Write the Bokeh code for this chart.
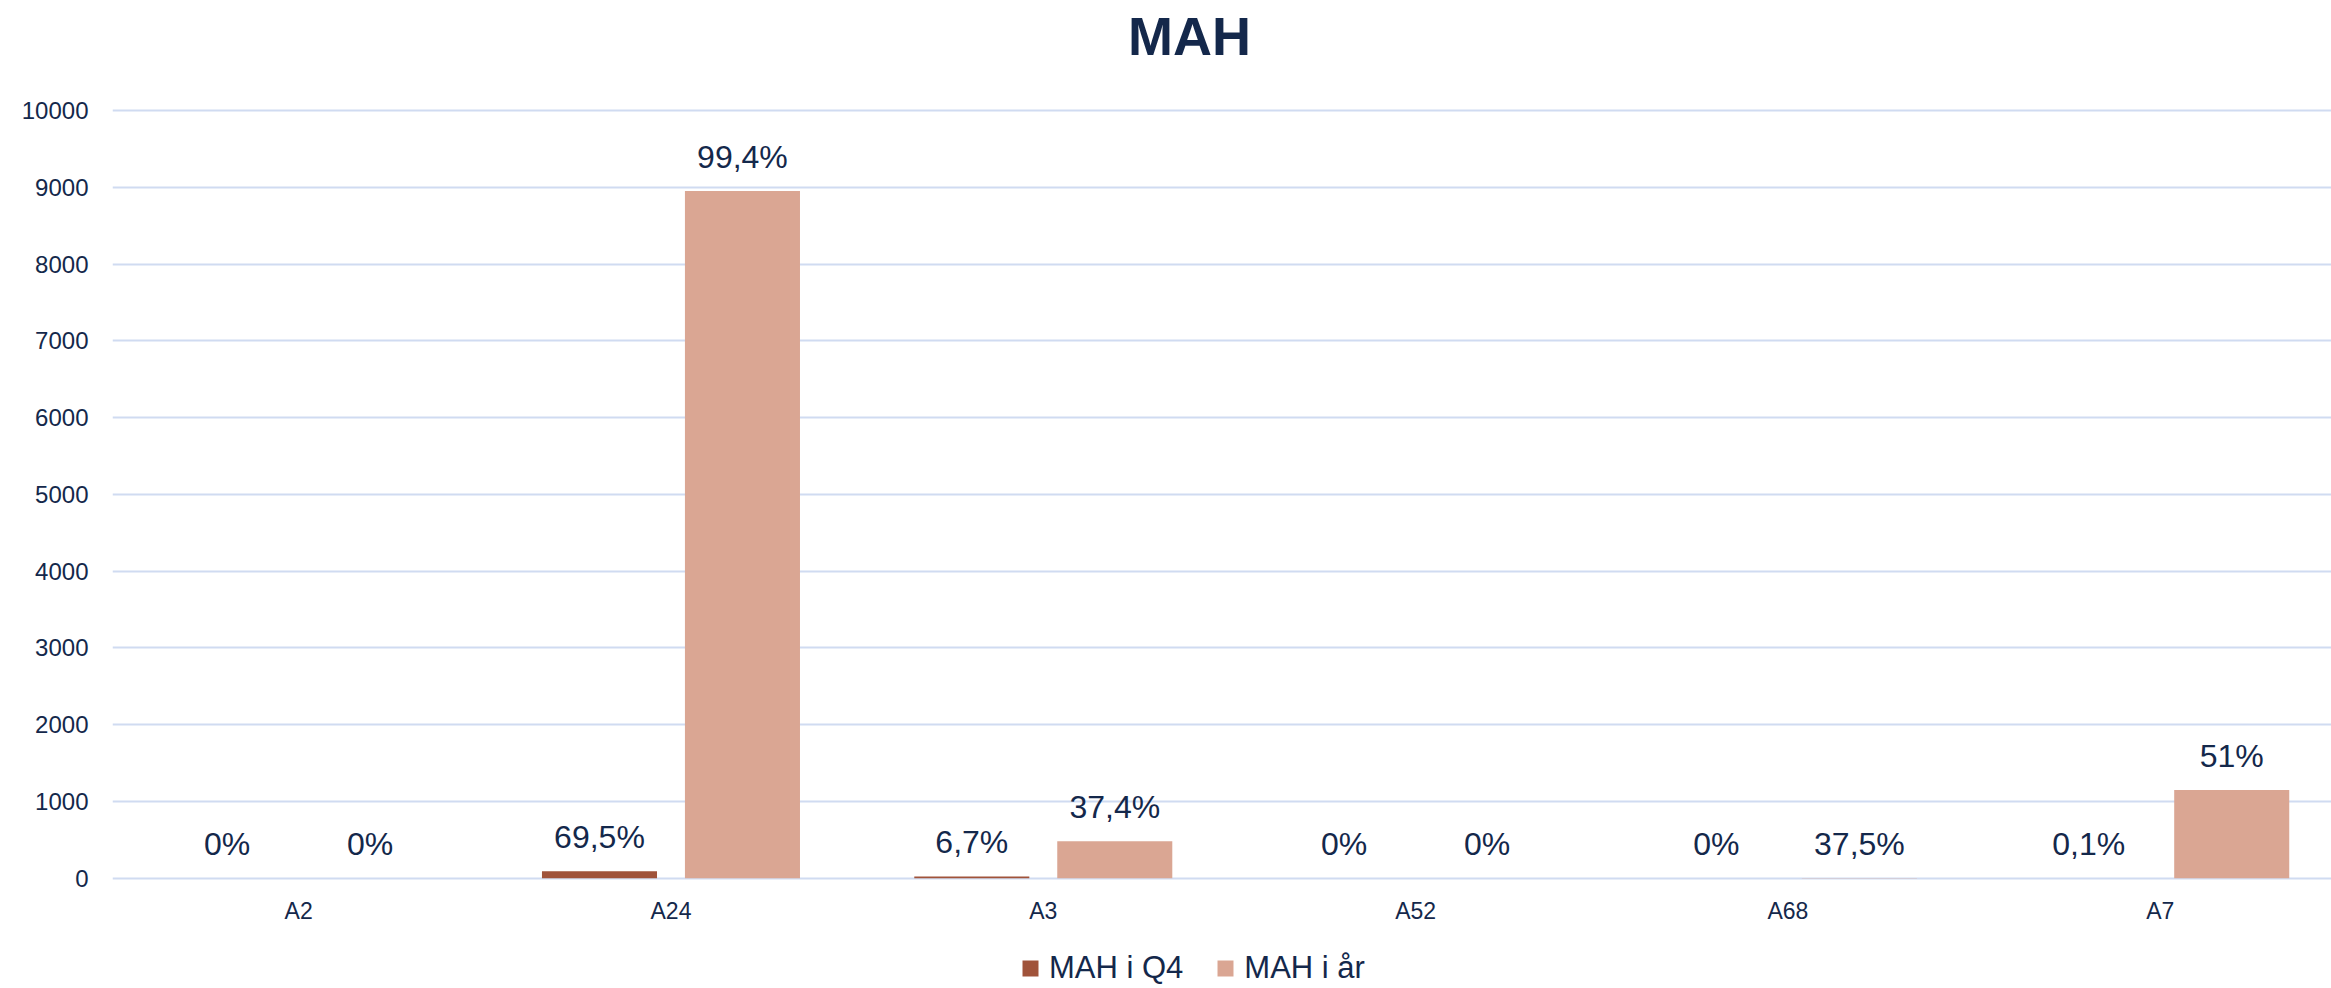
from bokeh.plotting import figure
from bokeh.models import ColumnDataSource, FixedTicker, LabelSet, Label, Legend, LegendItem, Range1d
from bokeh.core.properties import value
from bokeh.transform import dodge
from bokeh.embed import file_html
from bokeh.resources import INLINE

categories = ["A2", "A24", "A3", "A52", "A68", "A7"]
mah_q4 = [0, 90, 22, 0, 0, 0]
mah_aar = [0, 8950, 480, 0, 3, 1150]
q4_labels = ["0%", "69,5%", "6,7%", "0%", "0%", "0,1%"]
aar_labels = ["0%", "99,4%", "37,4%", "0%", "37,5%", "51%"]
y_ticks = [0, 1000, 2000, 3000, 4000, 5000, 6000, 7000, 8000, 9000, 10000]
series_names = ["MAH i Q4", "MAH i år"]
title_text = "MAH"

NAVY = "#14284B"
C_Q4 = "#A0533A"
C_AAR = "#DAA693"
GRID = "#D0DBF1"
FONT = "Liberation Sans"

W, H = 2331, 988

src = ColumnDataSource(dict(
    x=list(range(len(categories))), cat=categories,
    q4=mah_q4, aar=mah_aar, q4l=q4_labels, aarl=aar_labels,
))

# frame spans the whole height; the y range leaves room for title, labels and legend
p = figure(width=W, height=H, output_backend="svg", toolbar_location=None,
           title_location=None, x_axis_location=None,
           x_range=Range1d(-0.5, 5.46), y_range=Range1d(-1437, 11433),
           min_border_left=112, min_border_right=0, min_border_top=0, min_border_bottom=0)
p.outline_line_color = None
p.background_fill_color = "white"
p.border_fill_color = "white"

off = 0.192
bw = 0.309
r1 = p.vbar(x=dodge("x", -off, range=p.x_range), top="q4", width=bw, bottom=0, source=src,
            fill_color=C_Q4, line_color=None)
r2 = p.vbar(x=dodge("x", off, range=p.x_range), top="aar", width=bw, bottom=0, source=src,
            fill_color=C_AAR, line_color=None)

for col, lab, o in (("q4", "q4l", -off), ("aar", "aarl", off)):
    p.add_layout(LabelSet(x=dodge("x", o, range=p.x_range), y=col, text=lab, source=src,
                          y_offset=34, text_align="center", text_baseline="middle",
                          text_font=value(FONT), text_font_size="32px", text_color=NAVY))

# category labels under the zero line
p.add_layout(LabelSet(x="x", y=0, text="cat", source=src, y_offset=-33,
                      text_align="center", text_baseline="middle",
                      text_font=value(FONT), text_font_size="23px", text_color=NAVY))

p.yaxis.ticker = FixedTicker(ticks=y_ticks)
p.yaxis.axis_line_color = None
p.yaxis.major_tick_line_color = None
p.yaxis.minor_tick_line_color = None
p.yaxis.major_tick_out = 0
p.yaxis.major_tick_in = 0
p.yaxis.minor_tick_out = 0
p.yaxis.major_label_standoff = 24
p.yaxis.major_label_text_font = FONT
p.yaxis.major_label_text_font_size = "24px"
p.yaxis.major_label_text_color = NAVY

p.xgrid.grid_line_color = None
p.ygrid.grid_line_color = GRID
p.ygrid.grid_line_width = 2

p.add_layout(Label(x=1077, y=H - 35, x_units="screen", y_units="screen", text=title_text,
                   text_align="center", text_baseline="middle",
                   text_font=FONT, text_font_size="54px", text_font_style="bold",
                   text_color=NAVY))

legend = Legend(items=[LegendItem(label=series_names[0], renderers=[r1]),
                       LegendItem(label=series_names[1], renderers=[r2])],
                orientation="horizontal", location=(908, 2),
                glyph_width=20, glyph_height=20, label_standoff=9, spacing=32,
                padding=0, margin=0, border_line_color=None, background_fill_alpha=0,
                label_text_font=FONT, label_text_font_size="31px", label_text_color=NAVY)
p.add_layout(legend, "center")

open("out.html", "w").write(file_html(p, INLINE))
